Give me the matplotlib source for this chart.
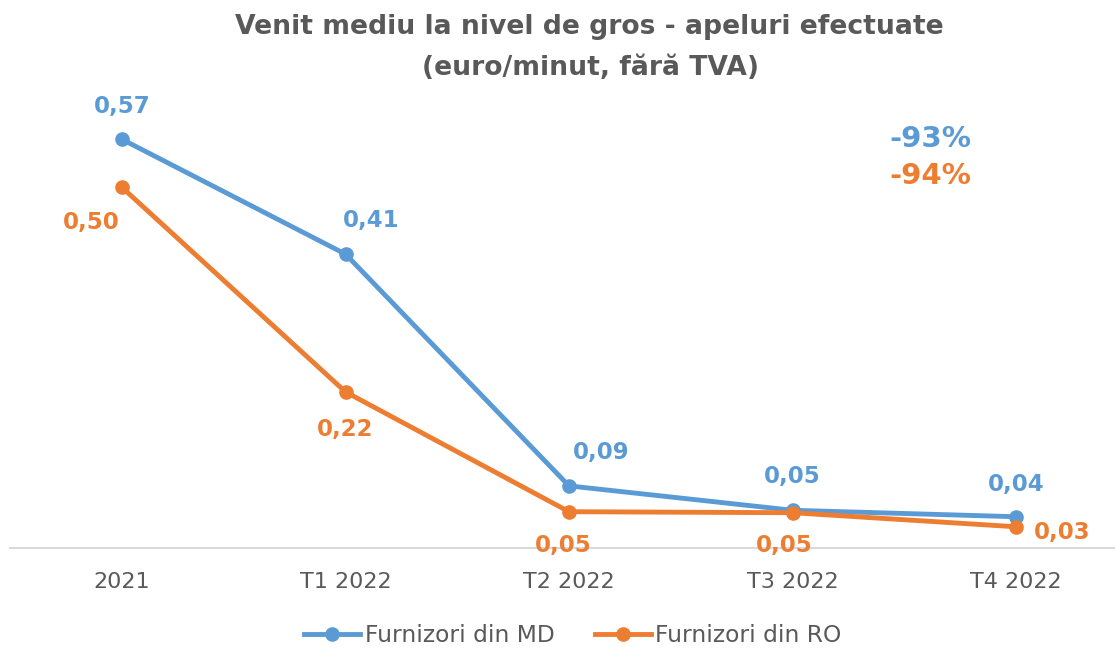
import matplotlib
matplotlib.use("Agg")
import matplotlib.pyplot as plt
from matplotlib.lines import Line2D

categories = ["2021", "T1 2022", "T2 2022", "T3 2022", "T4 2022"]
md_values = [0.57, 0.41, 0.087, 0.053, 0.044]
ro_values = [0.503, 0.218, 0.051, 0.0496, 0.030]
md_label = "Furnizori din MD"
ro_label = "Furnizori din RO"
md_change = "-93%"
ro_change = "-94%"

BLUE = "#5B9BD5"
ORANGE = "#ED7D31"
GRAY = "#595959"
FONT = ["DejaVu Sans"]

W, H, DPI = 1115, 651, 100
fig = plt.figure(figsize=(W / DPI, H / DPI), dpi=DPI)
left_px = 10.25
step_px = 223.5
x_max = (W - left_px) / step_px - 0.5
bottom_px = 548.3
scale = 717.5
ymax = 0.6
ax = fig.add_axes([left_px / W, (H - bottom_px) / H, 1 - left_px / W, ymax * scale / H])
ax.set_xlim(-0.5, x_max)
ax.set_ylim(0, ymax)

x = list(range(len(categories)))
ax.plot(x, md_values, color=BLUE, lw=3.5, marker="o", ms=9.5, solid_capstyle="round", zorder=3)
ax.plot(x, ro_values, color=ORANGE, lw=3.5, marker="o", ms=9.5, solid_capstyle="round", zorder=4)

def fmt(v):
    return f"{v:.2f}".replace(".", ",")

pt = 72 / DPI
LFS = 16.5
md_off = [(0, 33), (26, 34), (32, 33), (0, 34), (0, 32)]
ro_off = [(-31, -35), (0, -38), (-6, -34), (-8, -33), (46, -6)]
for i, v in enumerate(md_values):
    dx, dy = md_off[i]
    ax.annotate(fmt(v), (i, v), xytext=(dx * pt, dy * pt), textcoords="offset points",
                ha="center", va="center", fontsize=LFS, fontweight="bold", color=BLUE,
                family=FONT, zorder=5, annotation_clip=False)
for i, v in enumerate(ro_values):
    dx, dy = ro_off[i]
    ax.annotate(fmt(v), (i, v), xytext=(dx * pt, dy * pt), textcoords="offset points",
                ha="center", va="center", fontsize=LFS, fontweight="bold", color=ORANGE,
                family=FONT, zorder=5, annotation_clip=False)

for s in ["top", "right", "left"]:
    ax.spines[s].set_visible(False)
ax.spines["bottom"].set_color("#D9D9D9")
ax.spines["bottom"].set_linewidth(1.5)
ax.set_yticks([])
ax.set_xticks(x)
ax.set_xticklabels(categories, fontsize=16, color=GRAY, family=FONT)
ax.tick_params(axis="x", length=0, pad=17)

fig.text(930 / W, 1 - 139 / H, md_change, ha="center", va="center", fontsize=21,
         fontweight="bold", color=BLUE, family=FONT)
fig.text(930 / W, 1 - 176 / H, ro_change, ha="center", va="center", fontsize=21,
         fontweight="bold", color=ORANGE, family=FONT)

fig.text(589 / W, 1 - 27 / H, "Venit mediu la nivel de gros - apeluri efectuate",
         ha="center", va="center", fontsize=19.2, fontweight="bold", color=GRAY, family=FONT)
fig.text(591 / W, 1 - 68 / H, "(euro/minut, fără TVA)",
         ha="center", va="center", fontsize=19.2, fontweight="bold", color=GRAY, family=FONT)

handles = [Line2D([], [], color=BLUE, lw=3.5, marker="o", ms=9.5),
           Line2D([], [], color=ORANGE, lw=3.5, marker="o", ms=9.5)]
leg = fig.legend(handles, [md_label, ro_label], loc="center", bbox_to_anchor=(573 / W, 1 - 636 / H),
                 ncol=2, frameon=False, handlelength=2.4, handletextpad=0.2,
                 columnspacing=1.7, prop={"family": FONT, "size": 16.8})
for t in leg.get_texts():
    t.set_color(GRAY)

fig.savefig("out.png", dpi=DPI, facecolor="white")
